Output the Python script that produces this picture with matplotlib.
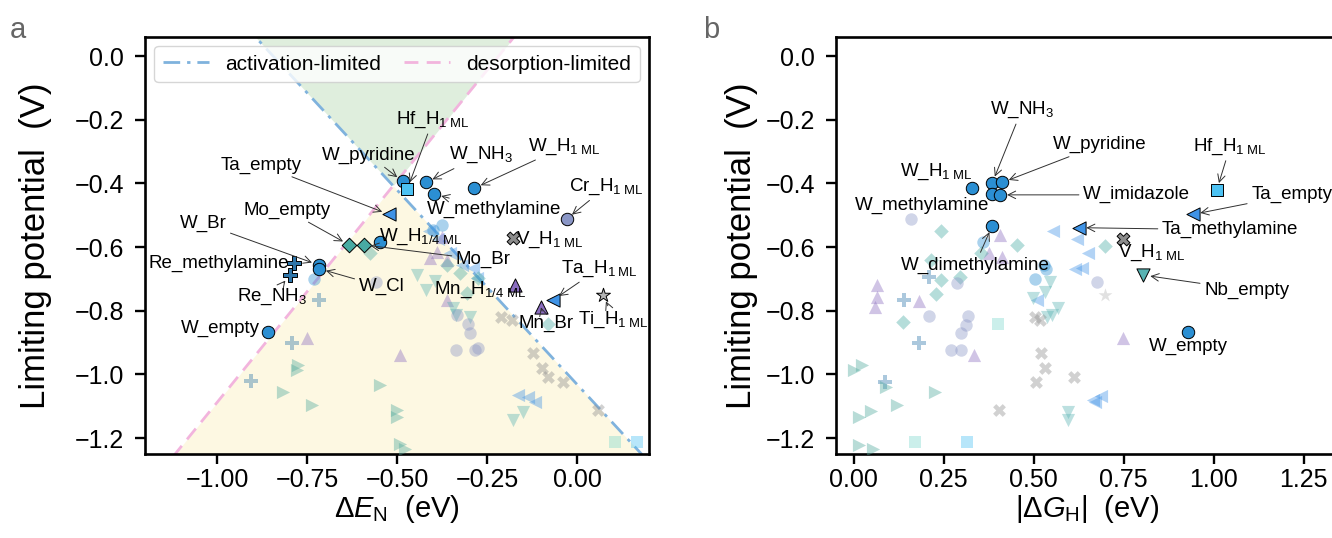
import numpy as np
import matplotlib
matplotlib.use('Agg')
import matplotlib.pyplot as plt

plt.rcParams['font.family'] = ['Liberation Sans', 'DejaVu Sans']
plt.rcParams['mathtext.fontset'] = 'custom'
plt.rcParams['mathtext.rm'] = 'Liberation Sans'
plt.rcParams['mathtext.it'] = 'Liberation Sans:italic'
plt.rcParams['mathtext.bf'] = 'Liberation Sans:bold'

# ---------------- data ----------------
# limiting-potential boundaries  U = slope * dE_N + icpt
act_slope, act_icpt = -1.221, -1.031
des_slope, des_icpt = 1.391, 0.303

# background structures, panel a (dE_N, U) and panel b (|dG_H|, U)
W_a_x = [-0.731, -0.376, -0.40]
W_a_y = [-0.701, -0.531, -0.546]
W_b_x = [0.36, 0.53, 0.535, 0.504]
W_b_y = [-0.585, -0.656, -0.668, -0.701]

Ta_a_x = [-0.41, -0.385, -0.353, -0.32, -0.288, -0.279, -0.163, -0.135, -0.117]
Ta_a_y = [-0.549, -0.576, -0.62, -0.656, -0.667, -0.698, -1.064, -1.07, -1.085]
Ta_b_x = [0.555, 0.62, 0.652, 0.615, 0.635, 0.509, 0.666, 0.687, 0.671]
Ta_b_y = [-0.549, -0.576, -0.619, -0.67, -0.667, -0.766, -1.08, -1.067, -1.085]

Mn_a_x = [-0.375, -0.39, -0.408, -0.362, -0.362, -0.492, -0.75]
Mn_a_y = [-0.567, -0.614, -0.635, -0.64, -0.766, -0.939, -0.887]
Mn_b_x = [0.407, 0.377, 0.411, 0.064, 0.064, 0.06, 0.182, 0.334, 0.749]
Mn_b_y = [-0.562, -0.617, -0.63, -0.719, -0.756, -0.789, -0.768, -0.939, -0.886]

Mo_a_x = [-0.576, -0.362, -0.325, -0.275, -0.306, -0.08]
Mo_a_y = [-0.62, -0.656, -0.682, -0.698, -0.745, -0.841]
Mo_b_x = [0.242, 0.453, 0.698, 0.353, 0.214, 0.296, 0.242, 0.228, 0.138]
Mo_b_y = [-0.549, -0.594, -0.597, -0.619, -0.639, -0.695, -0.703, -0.747, -0.834]

Nb_a_x = [-0.445, -0.394, -0.419, -0.345, -0.335, -0.297, -0.149, -0.177]
Nb_a_y = [-0.688, -0.705, -0.735, -0.790, -0.813, -0.820, -1.117, -1.143]
Nb_b_x = [0.546, 0.532, 0.497, 0.567, 0.55, 0.536, 0.595, 0.595]
Nb_b_y = [-0.709, -0.740, -0.761, -0.792, -0.813, -0.82, -1.117, -1.143]

Cr_a_x = [-0.558, -0.334, -0.302, -0.297, -0.336, -0.283, -0.274]
Cr_a_y = [-0.709, -0.813, -0.841, -0.869, -0.923, -0.923, -0.916]
Cr_b_x = [0.159, 0.286, 0.675, 0.209, 0.318, 0.311, 0.297, 0.271, 0.299]
Cr_b_y = [-0.512, -0.712, -0.709, -0.816, -0.816, -0.845, -0.871, -0.923, -0.923]

V_a_x = [-0.211, -0.18, -0.121, -0.098, -0.08, -0.038, 0.059]
V_a_y = [-0.818, -0.829, -0.934, -0.981, -1.009, -1.025, -1.111]
V_b_x = [0.504, 0.518, 0.52, 0.532, 0.506, 0.612, 0.404]
V_b_y = [-0.818, -0.829, -0.934, -0.981, -1.025, -1.009, -1.111]

Re_a_x = [-0.718, -0.791, -0.905]
Re_a_y = [-0.766, -0.900, -1.021]
Re_b_x = [0.209, 0.14, 0.182, 0.086]
Re_b_y = [-0.693, -0.766, -0.9, -1.023]

Zr_a_x = [-0.775, -0.778, -0.817, -0.736, -0.547, -0.501, -0.501, -0.492, -0.478]
Zr_a_y = [-0.970, -0.986, -1.054, -1.096, -1.033, -1.111, -1.132, -1.218, -1.235]
Zr_b_x = [0.024, 0.0, 0.089, 0.226, 0.049, 0.015, 0.121, 0.015, 0.055]
Zr_b_y = [-0.970, -0.986, -1.038, -1.056, -1.114, -1.132, -1.096, -1.221, -1.234]

Sc_a_x = [0.106]
Sc_a_y = [-1.211]
Sc_b_x = [0.17, 0.40]
Sc_b_y = [-1.211, -0.84]

Hf_a_x = [0.166]
Hf_a_y = [-1.211]
Hf_b_x = [0.314]
Hf_b_y = [-1.211]

Ti_a_x = []
Ti_a_y = []
Ti_b_x = [0.698]
Ti_b_y = [-0.75]

# highlighted structures
hl_a_names = ['W_pyridine', 'Hf_H$_\\mathregular{1\\ ML}$', 'W_NH$_3$', 'W_methylamine',
              'W_H$_\\mathregular{1\\ ML}$', 'Cr_H$_\\mathregular{1\\ ML}$', 'Ta_empty',
              'Mo_empty', 'Mo_Br', 'W_H$_\\mathregular{1/4\\ ML}$', 'W_Br', 'W_Cl',
              'Re_methylamine', 'Re_NH$_3$', 'W_empty', 'V_H$_\\mathregular{1\\ ML}$',
              'Mn_H$_\\mathregular{1/4\\ ML}$', 'Mn_Br', 'Ta_H$_\\mathregular{1\\ ML}$',
              'Ti_H$_\\mathregular{1\\ ML}$']
hl_a_x = [-0.484, -0.471, -0.419, -0.396, -0.285, -0.029, -0.523, -0.633, -0.593, -0.547,
          -0.718, -0.716, -0.786, -0.798, -0.859, -0.179, -0.173, -0.10, -0.066, 0.073]
hl_a_y = [-0.394, -0.417, -0.397, -0.434, -0.415, -0.512, -0.497, -0.593, -0.593, -0.585,
          -0.656, -0.668, -0.649, -0.688, -0.866, -0.573, -0.719, -0.789, -0.766, -0.750]

hl_b_names = ['W_H$_\\mathregular{1\\ ML}$', 'W_NH$_3$', 'W_pyridine', 'W_methylamine',
              'W_imidazole', 'W_dimethylamine', 'W_empty', 'Hf_H$_\\mathregular{1\\ ML}$',
              'Ta_empty', 'Ta_methylamine', 'V_H$_\\mathregular{1\\ ML}$', 'Nb_empty']
hl_b_x = [0.330, 0.385, 0.413, 0.385, 0.407, 0.385, 0.928, 1.009, 0.944, 0.627, 0.748, 0.805]
hl_b_y = [-0.415, -0.399, -0.397, -0.434, -0.436, -0.533, -0.868, -0.42, -0.497, -0.539,
          -0.576, -0.688]

# ---------------- styles ----------------
style = {
    'W':  dict(marker='o', color='#2b8fd3', s=80),
    'Hf': dict(marker='s', color='#4cc2f3', s=75),
    'Ta': dict(marker='<', color='#3f93e6', s=90),
    'Mo': dict(marker='D', color='#48aaa3', s=55),
    'Re': dict(marker='P', color='#2f76aa', s=95),
    'Mn': dict(marker='^', color='#8a6dbf', s=90),
    'V':  dict(marker='X', color='#8c8c8c', s=85),
    'Ti': dict(marker='*', color='#b5b5b5', s=110),
    'Cr': dict(marker='o', color='#8a96c6', s=80),
    'Nb': dict(marker='v', color='#58b3b3', s=90),
    'Zr': dict(marker='>', color='#4ea99d', s=90),
    'Sc': dict(marker='s', color='#7fd9cd', s=75),
}
bg_a = {'W': (W_a_x, W_a_y), 'Ta': (Ta_a_x, Ta_a_y), 'Mn': (Mn_a_x, Mn_a_y),
        'Mo': (Mo_a_x, Mo_a_y), 'Nb': (Nb_a_x, Nb_a_y), 'Cr': (Cr_a_x, Cr_a_y),
        'V': (V_a_x, V_a_y), 'Re': (Re_a_x, Re_a_y), 'Zr': (Zr_a_x, Zr_a_y),
        'Sc': (Sc_a_x, Sc_a_y), 'Hf': (Hf_a_x, Hf_a_y), 'Ti': (Ti_a_x, Ti_a_y)}
bg_b = {'W': (W_b_x, W_b_y), 'Ta': (Ta_b_x, Ta_b_y), 'Mn': (Mn_b_x, Mn_b_y),
        'Mo': (Mo_b_x, Mo_b_y), 'Nb': (Nb_b_x, Nb_b_y), 'Cr': (Cr_b_x, Cr_b_y),
        'V': (V_b_x, V_b_y), 'Re': (Re_b_x, Re_b_y), 'Zr': (Zr_b_x, Zr_b_y),
        'Sc': (Sc_b_x, Sc_b_y), 'Hf': (Hf_b_x, Hf_b_y), 'Ti': (Ti_b_x, Ti_b_y)}

# label positions (data coords) and whether an arrow is drawn
lab_a = [(-0.578, -0.311, 1), (-0.40, -0.20, 1), (-0.266, -0.311, 1), (-0.231, -0.483, 1),
         (-0.034, -0.284, 1), (0.082, -0.41, 1), (-0.877, -0.342, 1), (-0.806, -0.484, 1),
         (-0.26, -0.64, 1), (-0.434, -0.567, 0), (-1.039, -0.525, 1), (-0.543, -0.724, 1),
         (-0.995, -0.651, 0), (-0.846, -0.756, 1), (-0.99, -0.855, 0), (-0.077, -0.578, 0),
         (-0.27, -0.735, 0), (-0.087, -0.841, 1), (0.062, -0.667, 1), (0.102, -0.829, 1)]
lab_b = [(0.231, -0.363, 0), (0.467, -0.169, 1), (0.684, -0.279, 1), (0.19, -0.469, 0),
         (0.786, -0.436, 1), (0.337, -0.656, 1), (0.93, -0.913, 0), (1.046, -0.284, 1),
         (1.217, -0.436, 1), (1.046, -0.546, 1), (0.828, -0.619, 0), (1.092, -0.735, 1)]

fig = plt.figure(figsize=(13.32, 5.38), dpi=100)
ax_a = fig.add_axes([0.10886, 0.15595, 0.37838, 0.77546])
ax_b = fig.add_axes([0.62733, 0.15595, 0.37838, 0.77546])
ylim = (-1.25, 0.06)


def metal(name):
    return name.split('_')[0]


def draw_points(ax, bg, names, xs, ys, labs):
    for m, (x, y) in bg.items():
        st = style[m]
        ax.scatter(x, y, marker=st['marker'], s=st['s'], color=st['color'],
                   alpha=0.4, linewidths=0, zorder=3)
    for name, x, y, (tx, ty, arr) in zip(names, xs, ys, labs):
        st = style[metal(name)]
        ax.scatter([x], [y], marker=st['marker'], s=st['s'], color=st['color'],
                   edgecolors='black', linewidths=0.7, zorder=5)
        props = None
        if arr:
            props = dict(arrowstyle='->', color='#303030', lw=0.7,
                         shrinkA=1, shrinkB=5)
        ax.annotate(name, xy=(x, y), xytext=(tx, ty), ha='center', va='center',
                    fontsize=13.5, arrowprops=props, zorder=6)


def style_axes(ax, ypad):
    for sp in ax.spines.values():
        sp.set_linewidth(1.9)
    ax.tick_params(direction='out', length=7, width=1.7, labelsize=18)
    ax.tick_params(axis='x', pad=3)
    ax.tick_params(axis='y', pad=8)
    ax.set_ylim(*ylim)
    ax.set_yticks([0.0, -0.2, -0.4, -0.6, -0.8, -1.0, -1.2])
    ax.set_yticklabels([f'{v:.1f}'.replace('-', '\u2212') for v in ax.get_yticks()])
    ax.set_ylabel('Limiting potential  (V)', fontsize=25, labelpad=ypad)


# ---- panel a ----
xlim_a = (-1.2, 0.2)
xs = np.linspace(*xlim_a, 400)
act = act_slope * xs + act_icpt
des = des_slope * xs + des_icpt
ax_a.fill_between(xs, np.maximum(act, des), ylim[1], color='#dfeedd', lw=0, zorder=0)
ax_a.fill_between(xs, ylim[0], np.minimum(act, des), color='#fdf8e2', lw=0, zorder=0)
ax_a.plot(xs, act, color='#7fb2dd', lw=2.0, ls=(0, (6, 2.5, 1.2, 2.5)),
          label='activation-limited', zorder=2)
ax_a.plot(xs, des, color='#f2b4dd', lw=2.0, ls=(0, (5, 3)),
          label='desorption-limited', zorder=2)
draw_points(ax_a, bg_a, hl_a_names, hl_a_x, hl_a_y, lab_a)
ax_a.set_xlim(*xlim_a)
ax_a.set_xticks([-1.0, -0.75, -0.5, -0.25, 0.0])
ax_a.set_xticklabels([f'{v:.2f}'.replace('-', '\u2212') for v in ax_a.get_xticks()])
ax_a.set_xlabel('$\\Delta E_\\mathregular{N}$  (eV)', fontsize=21, labelpad=1)
style_axes(ax_a, 16)
leg = ax_a.legend(loc='upper center', ncol=2, mode='expand', fontsize=15,
                  bbox_to_anchor=(0.0, 0.0, 1.0, 1.0), borderaxespad=0.45,
                  handlelength=2.2, framealpha=0.8, edgecolor='#cccccc')
leg.set_zorder(10)

# ---- panel b ----
draw_points(ax_b, bg_b, hl_b_names, hl_b_x, hl_b_y, lab_b)
ax_b.set_xlim(-0.05, 1.35)
ax_b.set_xticks([0.0, 0.25, 0.5, 0.75, 1.0, 1.25])
ax_b.set_xticklabels([f'{v:.2f}' for v in ax_b.get_xticks()])
ax_b.set_xlabel('$|\\Delta G_\\mathregular{H}|$  (eV)', fontsize=21, labelpad=1)
style_axes(ax_b, 5)

fig.text(0.0135, 0.945, 'a', fontsize=21, color='#666666', ha='center', va='center')
fig.text(0.534, 0.945, 'b', fontsize=21, color='#666666', ha='center', va='center')

fig.savefig('out.png', dpi=100)
